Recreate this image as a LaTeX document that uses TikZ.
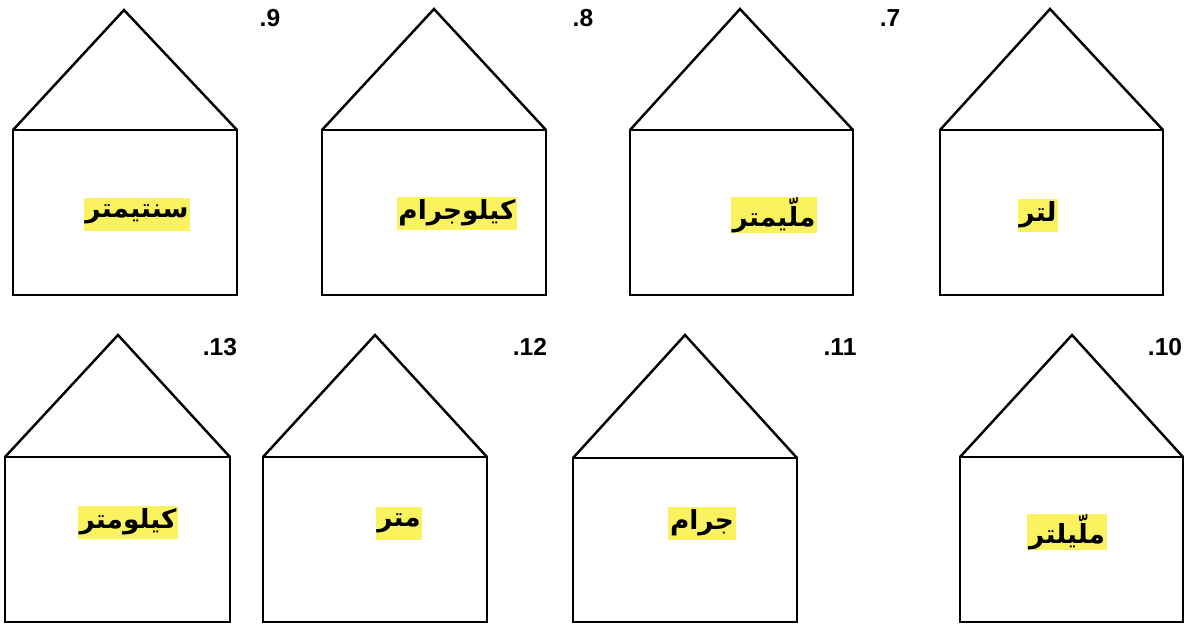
\documentclass[tikz,border=0pt]{standalone}
\usepackage{fontspec}
\setmainfont{Liberation Sans}
\newfontfamily\arabicfont[Script=Arabic]{DejaVu Sans}
\TeXXeTstate=1
\usetikzlibrary{positioning}
\definecolor{markyellow}{RGB}{250,242,95}

\begin{document}
\begin{tikzpicture}[
        x=0.02cm, y=-0.02cm,
        house/.style={draw, line width=1.4pt, line join=miter},
        unit/.style={fill=markyellow, inner xsep=1pt, inner ysep=0pt, minimum height=0.66cm, font=\arabicfont\bfseries\fontsize{15}{17}\selectfont},
        num/.style={font=\bfseries\fontsize{14}{16}\selectfont, anchor=center}
    ]
        \useasboundingbox (0,0) rectangle (1187,623);

        % Top row
        \draw[house] (13,130) rectangle (237,295);
        \draw[house] (13,130) -- (124,10) -- (237,130);
        \node[unit] (u9) at (137,214) {\beginR سنتيمتر\endR};
        \node[num] (n9) at (270,18) {.9};

        \draw[house] (322,130) rectangle (546,295);
        \draw[house] (322,130) -- (434,9) -- (546,130);
        \node[unit] (u8) at (457,213) {\beginR كيلوجرام\endR};
        \node[num] (n8) at (583,18) {.8};

        \draw[house] (630,130) rectangle (853,295);
        \draw[house] (630,130) -- (740,9) -- (853,130);
        \node[unit] (u7) at (774,215) {\beginR ملّيمتر\endR};
        \node[num] (n7) at (890,18) {.7};

        \draw[house] (940,130) rectangle (1163,295);
        \draw[house] (940,130) -- (1050,9) -- (1163,130);
        \node[unit] (u6) at (1038,215) {\beginR لتر\endR};

        % Bottom row
        \draw[house] (5,457) rectangle (230,622);
        \draw[house] (5,457) -- (118,335) -- (230,457);
        \node[unit] (u13) at (128,522) {\beginR كيلومتر\endR};
        \node[num] (n13) at (220,347) {.13};

        \draw[house] (263,457) rectangle (487,622);
        \draw[house] (263,457) -- (375,335) -- (487,457);
        \node[unit] (u12) at (399,523) {\beginR متر\endR};
        \node[num] (n12) at (530,347) {.12};

        \draw[house] (573,458) rectangle (797,622);
        \draw[house] (573,458) -- (685,335) -- (797,458);
        \node[unit] (u11) at (702,523) {\beginR جرام\endR};
        \node[num] (n11) at (840,347) {.11};

        \draw[house] (960,457) rectangle (1183,622);
        \draw[house] (960,457) -- (1072,335) -- (1183,457);
        \node[unit] (u10) at (1067,532) {\beginR ملّيلتر\endR};
        \node[num] (n10) at (1165,347) {.10};

    \end{tikzpicture}
\end{document}
